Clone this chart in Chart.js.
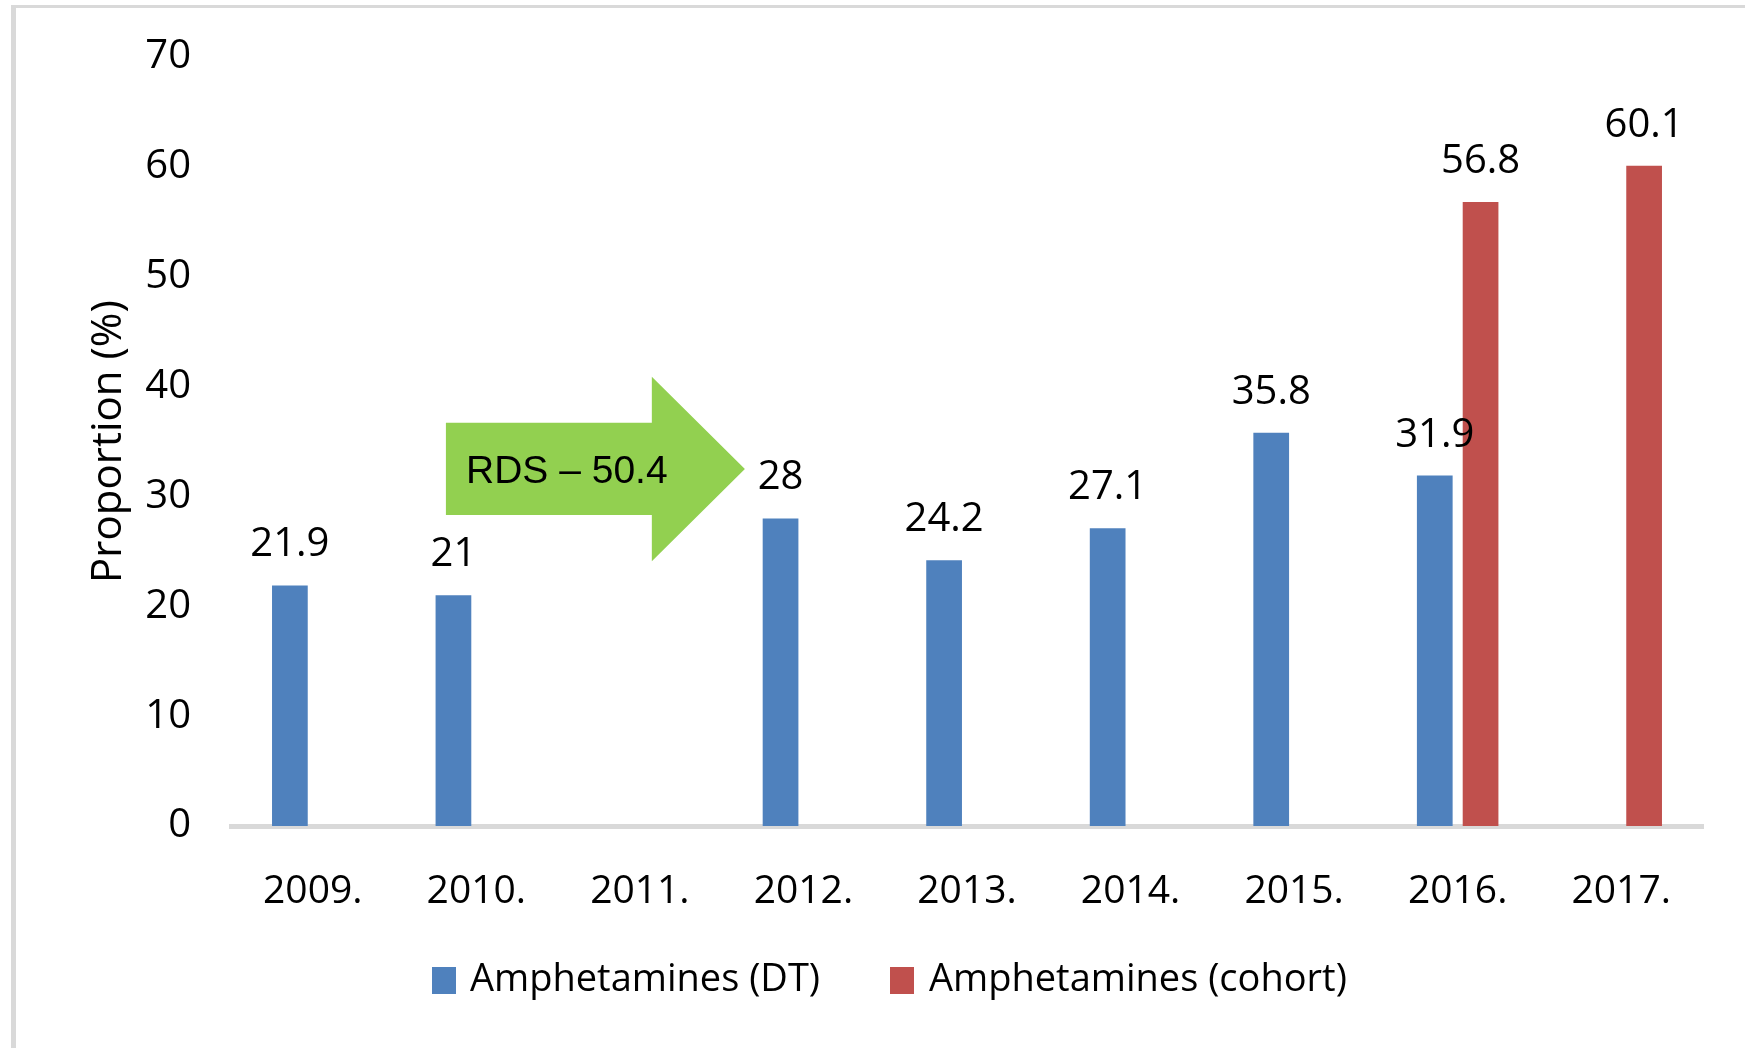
<!DOCTYPE html>
<html>
<head>
<meta charset="utf-8">
<script src="https://cdn.jsdelivr.net/npm/chart.js@4"></script>
<style>
  html, body { margin: 0; padding: 0; background: #fff; }
  #wrap { width: 1745px; height: 1048px; position: relative; }
</style>
</head>
<body>
<div id="wrap"><canvas id="amphChart"></canvas></div>
<script>
// data
const years = ['2009.', '2010.', '2011.', '2012.', '2013.', '2014.', '2015.', '2016.', '2017.'];
const amphDT = [21.9, 21, null, 28, 24.2, 27.1, 35.8, 31.9, null];
const amphCohort = [null, null, null, null, null, null, null, 56.8, 60.1];
const yTicks = [0, 10, 20, 30, 40, 50, 60, 70];
const seriesNames = ['Amphetamines (DT)', 'Amphetamines (cohort)'];
const arrowText = 'RDS \u2013 50.4';

const FONT = '"Open Sans", "Noto Sans", sans-serif';

// green arrow, in axis units (category index / percent)
const arrow = { x0: 0.814, xHead: 2.073, xTip: 2.642, bodyTop: 36.7, bodyBottom: 28.3, headTop: 40.9, headBottom: 24.1, tipY: 32.5, textX: 0.937, textY: 32.2 };

// frame round the chart
const frame = {
    id: 'frame',
    beforeDraw(chart) {
        const c = chart.ctx;
        c.save();
        c.fillStyle = '#ffffff';
        c.fillRect(0, 0, chart.width, chart.height);
        c.fillStyle = '#d9d9d9';
        c.fillRect(11, 5, chart.width - 11, 3);
        c.fillRect(11, 5, 5, chart.height - 5);
        c.restore();
    }
};

// arrow annotation
const rdsArrow = {
    id: 'rdsArrow',
    afterDatasetsDraw(chart) {
        const c = chart.ctx;
        const x = chart.scales.x, y = chart.scales.y;
        const px = v => x.getPixelForValue(v);
        const py = v => y.getPixelForValue(v);
        c.save();
        c.fillStyle = '#92d050';
        c.beginPath();
        c.moveTo(px(arrow.x0), py(arrow.bodyTop));
        c.lineTo(px(arrow.xHead), py(arrow.bodyTop));
        c.lineTo(px(arrow.xHead), py(arrow.headTop));
        c.lineTo(px(arrow.xTip), py(arrow.tipY));
        c.lineTo(px(arrow.xHead), py(arrow.headBottom));
        c.lineTo(px(arrow.xHead), py(arrow.bodyBottom));
        c.lineTo(px(arrow.x0), py(arrow.bodyBottom));
        c.closePath();
        c.fill();
        c.fillStyle = '#000';
        c.font = '39px "Liberation Sans", Arial, sans-serif';
        c.textAlign = 'left';
        c.textBaseline = 'middle';
        c.fillText(arrowText, px(arrow.textX), py(arrow.textY));
        c.restore();
    }
};

// numbers above bars
const valueLabels = {
    id: 'valueLabels',
    afterDatasetsDraw(chart) {
        const c = chart.ctx;
        c.save();
        c.font = '40px ' + FONT;
        c.fillStyle = '#000';
        c.textAlign = 'center';
        c.textBaseline = 'alphabetic';
        chart.data.datasets.forEach((ds, i) => {
            chart.getDatasetMeta(i).data.forEach((bar, j) => {
                const v = ds.data[j];
                if (v === null || v === undefined) return;
                c.fillText(String(v), bar.x, bar.y - 29);
            });
        });
        c.restore();
    }
};

// legend under the axis
const bottomLegend = {
    id: 'bottomLegend',
    afterDraw(chart) {
        const c = chart.ctx;
        const spots = [{ box: 432, text: 470 }, { box: 890, text: 929 }];
        c.save();
        c.font = '38px ' + FONT;
        c.textAlign = 'left';
        c.textBaseline = 'middle';
        chart.data.datasets.forEach((ds, i) => {
            c.fillStyle = ds.backgroundColor;
            c.fillRect(spots[i].box, 967, 24, 27);
            c.fillStyle = '#000';
            c.fillText(ds.label, spots[i].text, 980);
        });
        c.restore();
    }
};

const ctx = document.getElementById('amphChart').getContext('2d');
const amphChart = new Chart(ctx, {
    type: 'bar',
    data: {
        labels: years,
        datasets: [
            { label: seriesNames[0], data: amphDT, backgroundColor: '#4f81bd' },
            { label: seriesNames[1], data: amphCohort, backgroundColor: '#c0504d' }
        ]
    },
    options: {
        responsive: true,
        maintainAspectRatio: false,
        animation: false,
        categoryPercentage: 0.56,
        barPercentage: 0.78,
        layout: { padding: { left: 20, top: 57, right: 42, bottom: 0 } },
        plugins: {
            legend: { display: false },
            tooltip: { enabled: false }
        },
        scales: {
            x: {
                z: 1,
                grid: { display: false, drawTicks: false },
                border: { display: true, color: '#d9d9d9', width: 5 },
                ticks: { color: '#000', font: { family: FONT, size: 39 }, padding: 42 },
                afterFit: s => { s.height = 222; }
            },
            y: {
                min: 0,
                max: 70,
                afterBuildTicks: s => { s.ticks = yTicks.map(v => ({ value: v })); },
                grid: { display: false, drawTicks: false },
                border: { display: false },
                ticks: { color: '#000', font: { family: FONT, size: 40 }, padding: 40 },
                title: {
                    display: true,
                    text: 'Proportion (%)',
                    color: '#000',
                    font: { family: FONT, size: 42 },
                    padding: { top: 64, bottom: 0 }
                },
                // tick padding would otherwise push the plot top down
                afterFit: s => { s.width = 211; s.paddingTop = 0; s.paddingBottom = 0; }
            }
        }
    },
    plugins: [frame, rdsArrow, valueLabels, bottomLegend]
});
</script>
</body>
</html>
